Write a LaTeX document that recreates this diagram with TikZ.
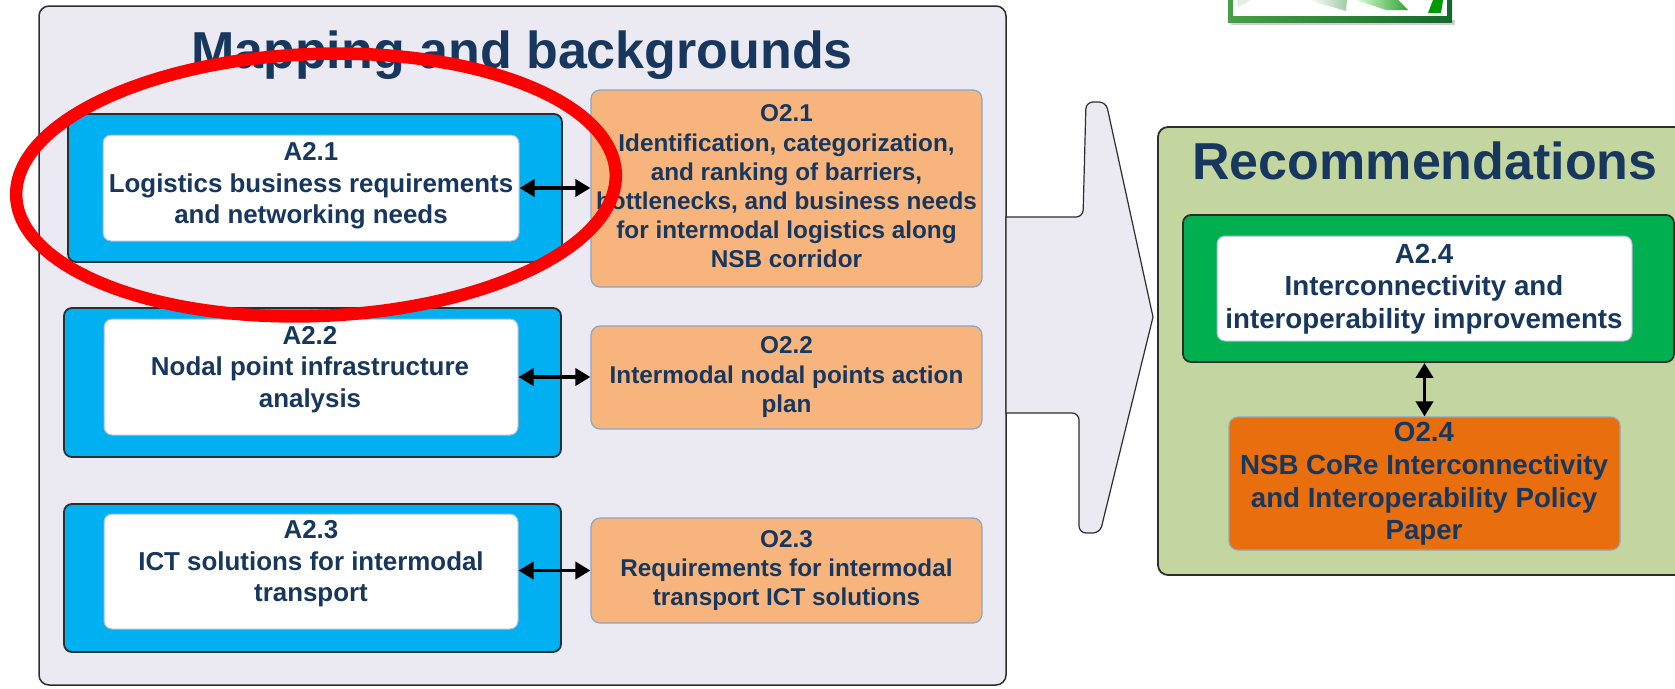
\documentclass[tikz,border=0pt]{standalone}
\usepackage{fontspec}
\setmainfont{Liberation Sans}
\usetikzlibrary{arrows.meta,shapes.geometric}
\definecolor{navy}{RGB}{23,55,94}
\definecolor{panelbg}{RGB}{235,233,241}
\definecolor{abl}{RGB}{0,176,240}
\definecolor{olt}{RGB}{247,180,124}
\definecolor{odk}{RGB}{232,110,14}
\definecolor{gpanel}{RGB}{195,214,159}
\definecolor{gdk}{RGB}{0,176,80}
\definecolor{wbord}{RGB}{165,188,215}
\definecolor{obord}{RGB}{140,165,200}
\definecolor{edge}{RGB}{45,45,45}
\definecolor{logoL}{RGB}{70,160,70}
\definecolor{logoR}{RGB}{20,105,45}
\tikzset{
  panelbox/.style={draw=edge, line width=1.5pt, rounded corners=10pt, inner sep=0pt},
  abox/.style={fill=abl, draw=edge, line width=1.8pt, rounded corners=8pt, inner sep=0pt},
  gbox/.style={fill=gdk, draw=edge, line width=1.8pt, rounded corners=8pt, inner sep=0pt},
  wbox/.style={fill=white, draw=wbord, line width=1pt, rounded corners=8pt, inner sep=0pt},
  obox/.style={fill=olt, draw=obord, line width=1.2pt, rounded corners=9pt, inner sep=0pt},
  odbox/.style={fill=odk, draw=obord, line width=1.2pt, rounded corners=9pt, inner sep=0pt},
  txt/.style={text=navy, align=center, inner sep=0pt},
  atxt/.style={txt, font=\fontsize{25.9}{31.5}\selectfont\bfseries},
  otxt/.style={txt, font=\fontsize{24.3}{29.2}\selectfont\bfseries},
  rtxt/.style={txt, font=\fontsize{27.7}{32.6}\selectfont\bfseries},
  ttl/.style={text=navy, inner sep=0pt, anchor=base, font=\fontsize{52}{60}\selectfont\bfseries},
  dbl/.style={{Triangle[length=15pt,width=17pt]}-{Triangle[length=15pt,width=17pt]}, line width=3.6pt, black},
}
\begin{document}
\begin{tikzpicture}[x=1pt,y=-1pt]
\useasboundingbox (0,0) rectangle (1675,688);
\fill[white] (0,0) rectangle (1675,688);

% logo (partly visible at the top)
\begin{scope}
\clip (0,0) rectangle (1675,688);
\fill[black!18] (1231,20) rectangle (1455,25);
\shade[left color=logoL, right color=logoR] (1228,-20) rectangle (1452,22);
\fill[white] (1233,-20) rectangle (1447,16);
\begin{scope}
\clip (1233,-20) rectangle (1447,16);
\fill[green!50!black, opacity=0.12] (1237,0) -- (1251,0) -- (1238,7) -- cycle;
\shade[left color=white, right color=green!45!black!60, opacity=0.6] (1308,0) -- (1347,0) -- (1346,11) -- cycle;
\shade[left color=green!20, right color=green!55!black, opacity=0.8] (1356,0) -- (1398,0) -- (1408,10) -- (1386,10) -- cycle;
\fill[green!60!black] (1433,0) -- (1443,0) -- (1441,13) -- (1428,13) -- cycle;
\end{scope}
\end{scope}

% left panel
\node[panelbox, fill=panelbg, minimum width=967pt, minimum height=679pt] (lp) at (522.5,345.5) {};
\node[ttl] (t1) at (522,68) {Mapping and backgrounds};

% big arrow
\draw[fill=panelbg, draw=edge, line width=1.2pt]
  (1006,217) [rounded corners=7pt] -- (1083,217) -- (1086,102) -- (1106,102)
  [sharp corners] -- (1153,317) [rounded corners=7pt] -- (1100,533) -- (1079,533) -- (1079,413)
  [sharp corners] -- (1006,413) -- cycle;

% A boxes
\node[abox, minimum width=494pt, minimum height=148pt] (b1) at (315,188) {};
\node[abox, minimum width=497pt, minimum height=149pt] (b2) at (312.5,382.5) {};
\node[abox, minimum width=497pt, minimum height=148pt] (b3) at (312.5,578) {};
\node[wbox, minimum width=416pt, minimum height=106pt] (w1) at (311,188) {};
\node[wbox, minimum width=414pt, minimum height=116pt] (w2) at (311,377) {};
\node[wbox, minimum width=414pt, minimum height=115pt] (w3) at (311,571.5) {};
\node[atxt] (a1) at (311,186) {A2.1\\Logistics business requirements\\and networking needs};
\node[atxt] (a2) at (310,369.5) {A2.2\\Nodal point infrastructure\\analysis};
\node[atxt] (a3) at (311,564) {A2.3\\ICT solutions for intermodal\\transport};

% O boxes
\node[obox, minimum width=391pt, minimum height=197pt] (o1) at (786.5,188.5) {};
\node[obox, minimum width=391pt, minimum height=103pt] (o2) at (786.5,377.5) {};
\node[obox, minimum width=391pt, minimum height=105pt] (o3) at (786.5,570.5) {};
\node[otxt] (ot1) at (786.5,186.6) {O2.1\\Identification, categorization,\\and ranking of barriers,\\bottlenecks, and business needs\\for intermodal logistics along\\NSB corridor};
\node[otxt] (ot2) at (786.5,377.2) {O2.2\\Intermodal nodal points action\\plan};
\node[otxt] (ot3) at (786.5,570.8) {O2.3\\Requirements for intermodal\\transport ICT solutions};

\draw[dbl] (w1.east) -- (w1.east -| o1.west);
\draw[dbl] (w2.east) -- (w2.east -| o2.west);
\draw[dbl] (w3.east |- o3.west) -- (o3.west);

% right panel
\node[panelbox, fill=gpanel, line width=1.8pt, minimum width=537pt, minimum height=448pt] (rp) at (1426.5,351) {};
\node[ttl] (t2) at (1425,179) {Recommendations};
\node[gbox, minimum width=491pt, minimum height=147pt] (g4) at (1428.5,288.5) {};
\node[wbox, minimum width=415pt, minimum height=105pt] (w4) at (1424.5,288.5) {};
\node[rtxt] (a4) at (1424,288.8) {A2.4\\Interconnectivity and\\interoperability improvements};
\node[odbox, minimum width=391pt, minimum height=133pt] (o4) at (1424.5,483.5) {};
\node[rtxt] (ot4) at (1424,483.9) {O2.4\\NSB CoRe Interconnectivity\\and Interoperability Policy\\Paper};
\draw[dbl] (o4.north |- g4.south) -- (o4.north);

% red highlight
\node[draw=red, ellipse, line width=12.5pt, minimum width=600pt, minimum height=262pt, inner sep=0pt, rotate=2.2] (hl) at (316,185) {};
\end{tikzpicture}
\end{document}
